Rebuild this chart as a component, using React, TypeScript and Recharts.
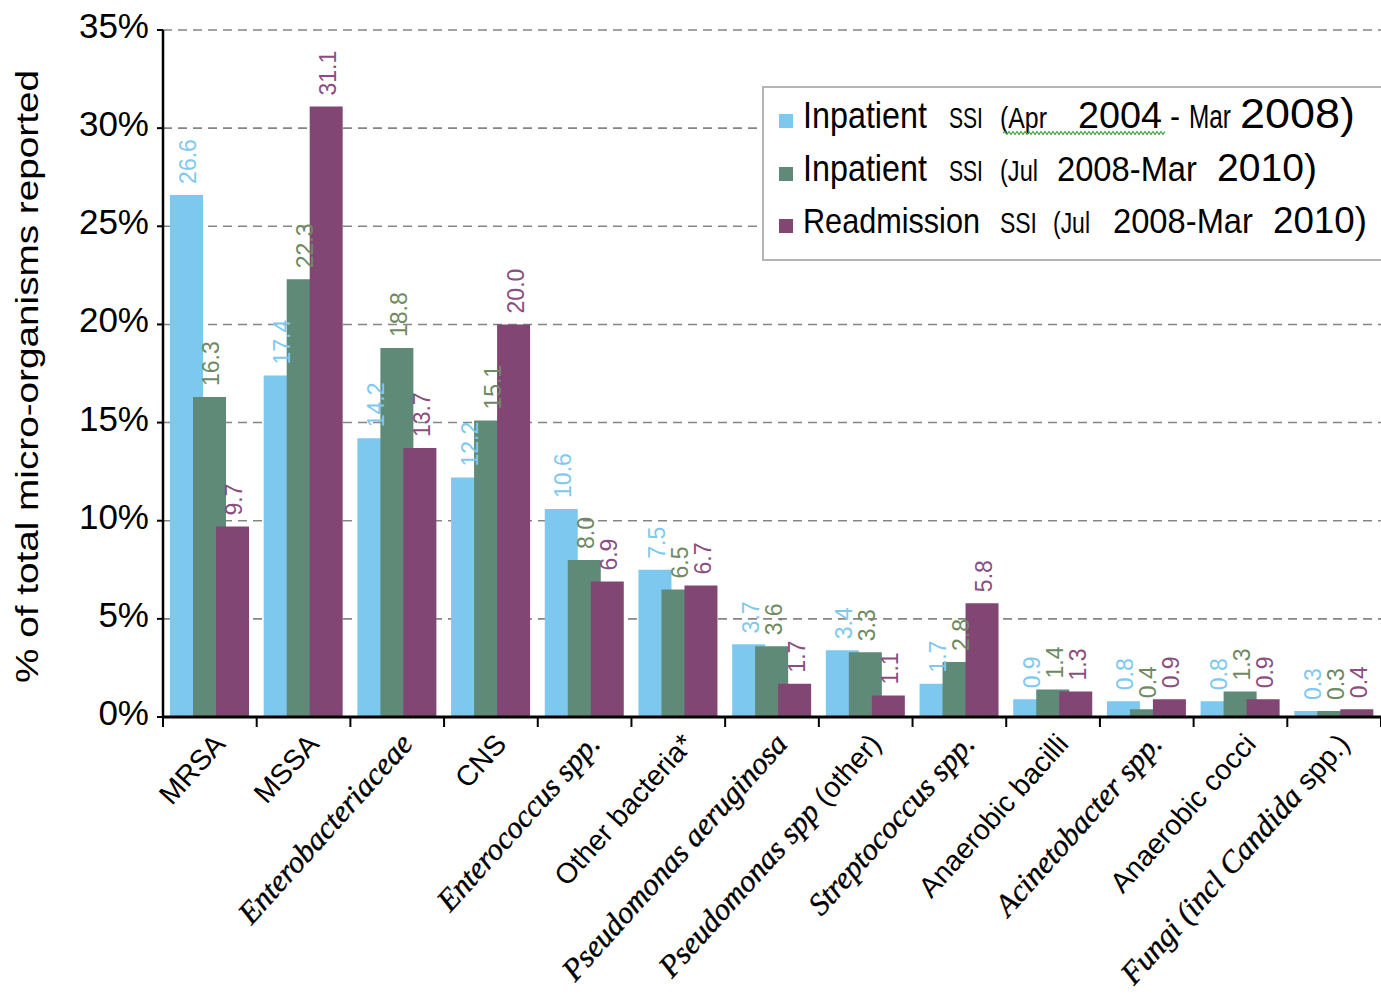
import React from 'react';
import { BarChart, Bar, XAxis, YAxis, CartesianGrid, Legend, LabelList } from 'recharts';

// Organism groups along the x axis
const categories = [
  'MRSA',
  'MSSA',
  'Enterobacteriaceae',
  'CNS',
  'Enterococcus spp.',
  'Other bacteria*',
  'Pseudomonas aeruginosa',
  'Pseudomonas spp (other)',
  'Streptococcus spp.',
  'Anaerobic bacilli',
  'Acinetobacter spp.',
  'Anaerobic cocci',
  'Fungi (incl Candida spp.)',
];
// Number of leading characters of each name set in the calligraphic italic face
const scriptChars = [0, 0, 18, 0, 17, 0, 22, 15, 18, 0, 18, 0, 19];

// % of total micro-organisms reported
const inpatient2004to2008 = [26.6, 17.4, 14.2, 12.2, 10.6, 7.5, 3.7, 3.4, 1.7, 0.9, 0.8, 0.8, 0.3];
const inpatient2008to2010 = [16.3, 22.3, 18.8, 15.1, 8.0, 6.5, 3.6, 3.3, 2.8, 1.4, 0.4, 1.3, 0.3];
const readmission2008to2010 = [9.7, 31.1, 13.7, 20.0, 6.9, 6.7, 1.7, 1.1, 5.8, 1.3, 0.9, 0.9, 0.4];

const seriesNames = [
  'Inpatient SSI (Apr 2004 - Mar 2008)',
  'Inpatient SSI (Jul 2008-Mar 2010)',
  'Readmission SSI (Jul 2008-Mar 2010)',
];
const yTicks = [0, 5, 10, 15, 20, 25, 30, 35];

const data = categories.map((name, i) => ({
  name,
  a: inpatient2004to2008[i],
  b: inpatient2008to2010[i],
  c: readmission2008to2010[i],
}));

// ---- styling ----
const SANS = '"Liberation Sans", Arial, sans-serif';
const SCRIPT = '"Liberation Serif", "Times New Roman", serif';
const barColors = ['#7DC8EE', '#5E8A77', '#824674'];
const labelColors = ['#80C9EE', '#6F8A62', '#8A4F80'];

const CHART_W = 1381;
const CHART_H = 1003;
const PLOT_LEFT = 163;
const PLOT_TOP = 30;
const X_AXIS_H = 286;
const BAND = (CHART_W - PLOT_LEFT) / categories.length;
const TICK_ANGLE = -48;

// legend box geometry (page coordinates)
const LEG_X = 762;
const LEG_Y = 86;
const LEG_W = CHART_W - LEG_X;
const LEG_H = 175;
const legendBaselines = [128, 181, 233];
// x, width and glyph height (font size) of each word of each legend entry
const legendWordBoxes = [
  [
    { x: 803, w: 124, h: 36 },
    { x: 949, w: 34, h: 29 },
    { x: 1000, w: 47, h: 29 },
    { x: 1078, w: 84, h: 37 },
    { x: 1170, w: 10, h: 34 },
    { x: 1189, w: 42, h: 34 },
    { x: 1240, w: 115, h: 42 },
  ],
  [
    { x: 803, w: 124, h: 36 },
    { x: 949, w: 34, h: 29 },
    { x: 1000, w: 38, h: 29 },
    { x: 1057, w: 140, h: 35 },
    { x: 1217, w: 100, h: 38 },
  ],
  [
    { x: 803, w: 177, h: 36 },
    { x: 1000, w: 37, h: 29 },
    { x: 1053, w: 37, h: 29 },
    { x: 1113, w: 140, h: 35 },
    { x: 1273, w: 94, h: 37 },
  ],
];

let measureCtx: CanvasRenderingContext2D | null = null;
function measure(text: string, size: number) {
  if (!measureCtx) measureCtx = document.createElement('canvas').getContext('2d');
  if (!measureCtx) return text.length * size * 0.55;
  measureCtx.font = `${size}px "Liberation Sans", Arial, sans-serif`;
  return measureCtx.measureText(text).width;
}

function wavyPath(x0: number, x1: number, y: number) {
  let d = `M${x0},${y}`;
  let up = true;
  for (let x = x0 + 2; x <= x1; x += 2) {
    d += ` L${x},${y + (up ? -1.5 : 1.5)}`;
    up = !up;
  }
  return d;
}

// A word drawn at the given width, stretched vertically to the given glyph size
function FittedWord({ text, x, y, w, h }: { text: string; x: number; y: number; w: number; h: number }) {
  const natural = measure(text, h);
  const fs = (h * w) / natural;
  const sy = h / fs;
  return (
    <text transform={`translate(${x} ${y}) scale(1 ${sy})`} fontSize={fs} fontFamily={SANS} fill="#000">
      {text}
    </text>
  );
}

function LegendBox(props: any) {
  const payload = props.payload || [];
  return (
    <svg width={LEG_W} height={LEG_H} style={{ display: 'block' }}>
      <rect x={1} y={1} width={LEG_W + 10} height={LEG_H - 2} fill="#fff" stroke="#b5b5b5" strokeWidth={2} />
      {payload.map((entry: any, r: number) => {
        const base = legendBaselines[r] - LEG_Y;
        const words = String(entry.value).split(' ');
        return (
          <g key={r}>
            <rect x={779 - LEG_X} y={base - 14} width={14} height={14} fill={entry.color} />
            {words.map((w: string, k: number) => {
              const b = legendWordBoxes[r][k];
              return <FittedWord key={k} text={w} x={b.x - LEG_X} y={base} w={b.w} h={b.h} />;
            })}
            {r === 0 && (
              <path d={wavyPath(1003 - LEG_X, 1165 - LEG_X, base + 5)} stroke="#3FA33F" strokeWidth={1.2} fill="none" />
            )}
          </g>
        );
      })}
    </svg>
  );
}

function PercentTick(props: any) {
  const { x, y, payload } = props;
  return (
    <text x={x} y={y + 8} textAnchor="end" fontSize={35} fontFamily={SANS} fill="#000">
      {`${payload.value}%`}
    </text>
  );
}

function CategoryTick(props: any) {
  const { x, y, payload, index } = props;
  const axisY = y - 10;
  const name: string = payload.value;
  const idx = categories.indexOf(name);
  const n = scriptChars[idx] || 0;
  const scriptPart = name.slice(0, n);
  const plainPart = name.slice(n);
  const ax = x + 17;
  const ay = axisY + 28;
  return (
    <g>
      <line x1={x - BAND / 2} y1={axisY} x2={x - BAND / 2} y2={axisY + 10} stroke="#000" strokeWidth={2} />
      {index === categories.length - 1 && (
        <line x1={x + BAND / 2} y1={axisY} x2={x + BAND / 2} y2={axisY + 10} stroke="#000" strokeWidth={2} />
      )}
      <text x={ax} y={ay} transform={`rotate(${TICK_ANGLE} ${ax} ${ay})`} textAnchor="end" fill="#000">
        {scriptPart && (
          <tspan fontFamily={SCRIPT} fontStyle="italic" fontSize={31} stroke="#000" strokeWidth={0.4}>
            {scriptPart}
          </tspan>
        )}
        {plainPart && (
          <tspan fontFamily={SANS} fontSize={28.5}>
            {plainPart}
          </tspan>
        )}
      </text>
    </g>
  );
}

const makeValueLabel = (color: string) => (props: any) => {
  const { x, y, width, value } = props;
  if (value == null) return null;
  const bx = Number(x) + Number(width) / 2 + 10;
  const by = Number(y) - 11;
  return (
    <text
      x={bx}
      y={by}
      transform={`rotate(-90 ${bx} ${by})`}
      textAnchor="start"
      fontSize={23}
      fontFamily={SANS}
      fill={color}
    >
      {Number(value).toFixed(1)}
    </text>
  );
};

function YTitle(props: any) {
  const vb = props.viewBox || {};
  const cx = 38;
  const cy = (vb.y ?? PLOT_TOP) + (vb.height ?? 687) / 2 + 3;
  return (
    <text
      x={cx}
      y={cy}
      transform={`rotate(-90 ${cx} ${cy})`}
      textAnchor="middle"
      fontSize={32}
      fontFamily={SANS}
      fill="#000"
      textLength={613}
      lengthAdjust="spacingAndGlyphs"
    >
      % of total micro-organisms reported
    </text>
  );
}

export default function App() {
  return (
    <div style={{ position: 'absolute', left: 0, top: 0, background: '#fff' }}>
      <BarChart
        width={CHART_W}
        height={CHART_H}
        data={data}
        margin={{ top: PLOT_TOP, right: 0, bottom: 0, left: 0 }}
        barSize={33}
        barGap={-10}
      >
        <CartesianGrid vertical={false} strokeDasharray="9 6" stroke="#858585" strokeWidth={1.6} />
        <XAxis
          dataKey="name"
          height={X_AXIS_H}
          interval={0}
          tickSize={10}
          tickMargin={0}
          tickLine={false}
          axisLine={{ stroke: '#000', strokeWidth: 3 }}
          tick={<CategoryTick />}
        />
        <YAxis
          width={PLOT_LEFT}
          domain={[0, 35]}
          ticks={yTicks}
          interval={0}
          tickSize={6}
          tickMargin={8}
          axisLine={{ stroke: '#000', strokeWidth: 2.5 }}
          tickLine={{ stroke: '#000', strokeWidth: 2 }}
          tick={<PercentTick />}
          label={<YTitle />}
        />
        <Legend
          layout="horizontal"
          verticalAlign="middle"
          align="center"
          content={<LegendBox />}
          wrapperStyle={{ left: LEG_X, top: LEG_Y, width: LEG_W, height: LEG_H }}
        />
        <Bar dataKey="a" name={seriesNames[0]} fill={barColors[0]} isAnimationActive={false}>
          <LabelList dataKey="a" content={makeValueLabel(labelColors[0])} />
        </Bar>
        <Bar dataKey="b" name={seriesNames[1]} fill={barColors[1]} isAnimationActive={false}>
          <LabelList dataKey="b" content={makeValueLabel(labelColors[1])} />
        </Bar>
        <Bar dataKey="c" name={seriesNames[2]} fill={barColors[2]} isAnimationActive={false}>
          <LabelList dataKey="c" content={makeValueLabel(labelColors[2])} />
        </Bar>
      </BarChart>
    </div>
  );
}
